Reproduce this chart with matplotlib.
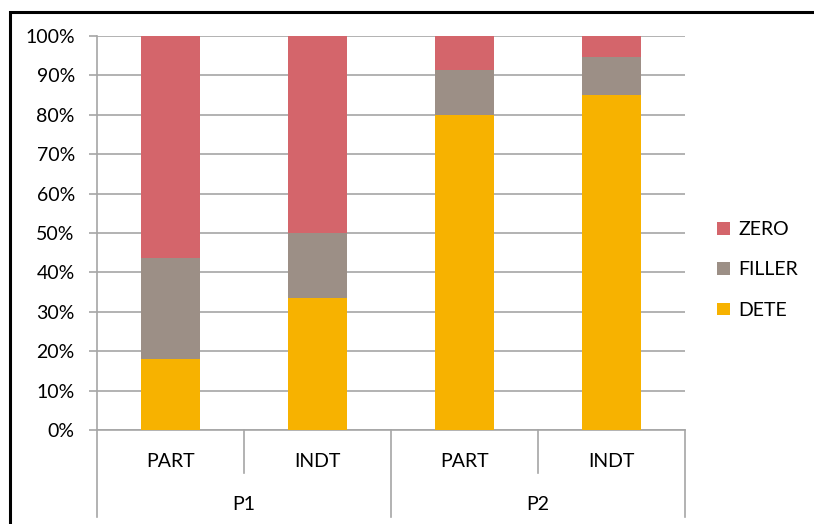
import matplotlib.pyplot as plt
from matplotlib.patches import Rectangle
import numpy as np

plt.rcParams['font.family'] = ['Lato', 'DejaVu Sans']

groups = ["P1", "P2"]
cats = ["PART", "INDT", "PART", "INDT"]
dete = [18.0, 33.5, 80.0, 85.0]
filler = [25.7, 16.5, 11.4, 9.7]
zero = [100 - d - f for d, f in zip(dete, filler)]

c_dete = "#F7B200"
c_filler = "#9C8F86"
c_zero = "#D4656B"
grid_c = "#A6A6A6"
fs = 14

fig = plt.figure(figsize=(8.14, 5.24), dpi=100)
ax = fig.add_axes([97/814, 94/524, 588/814, 394/524])

x = np.arange(len(cats)) + 0.5
w = 0.4
b1 = ax.bar(x, dete, w, color=c_dete, label="DETE", zorder=3)
b2 = ax.bar(x, filler, w, bottom=dete, color=c_filler, label="FILLER", zorder=3)
bot = [d + f for d, f in zip(dete, filler)]
b3 = ax.bar(x, zero, w, bottom=bot, color=c_zero, label="ZERO", zorder=3)

ax.set_xlim(0, len(cats))
ax.set_ylim(0, 100)
ax.set_yticks(range(0, 101, 10))
ax.set_yticklabels([f"{v}%" for v in range(0, 101, 10)], fontsize=fs)
ax.yaxis.grid(True, color=grid_c, lw=1.2, zorder=0)
ax.set_xticks([])
ax.tick_params(axis='y', length=6, width=1.2, color=grid_c, pad=10)
for s in ["top", "right"]:
    ax.spines[s].set_visible(False)
for s in ["left", "bottom"]:
    ax.spines[s].set_color(grid_c)
    ax.spines[s].set_linewidth(1.2)

# grouped category axis
tr = ax.get_xaxis_transform()
for i, c in enumerate(cats):
    ax.text(x[i], -0.079, c, transform=tr, ha='center', va='center', fontsize=fs)
for xi in [1, 3]:
    ax.plot([xi, xi], [0, -0.109], transform=tr, color=grid_c, lw=1.2, clip_on=False)
for xi in [0, 2, 4]:
    ax.plot([xi, xi], [0, -0.221], transform=tr, color=grid_c, lw=1.2, clip_on=False)
for j, g in enumerate(groups):
    ax.text(2 * j + 1, -0.188, g, transform=tr, ha='center', va='center', fontsize=fs)

ax.legend(handles=[b3, b2, b1], loc='center left', bbox_to_anchor=(717/814, 254/524),
          bbox_transform=fig.transFigure, frameon=False, fontsize=fs,
          handlelength=0.65, handleheight=0.65, handletextpad=0.45,
          labelspacing=1.2, borderpad=0, borderaxespad=0)

# chart border
fig.patches.append(Rectangle((10/814, -0.1), 1.2, (524 - 12)/524 + 0.1,
                             transform=fig.transFigure, fill=False,
                             edgecolor='black', lw=2.2))

fig.savefig("out.png", dpi=100)
